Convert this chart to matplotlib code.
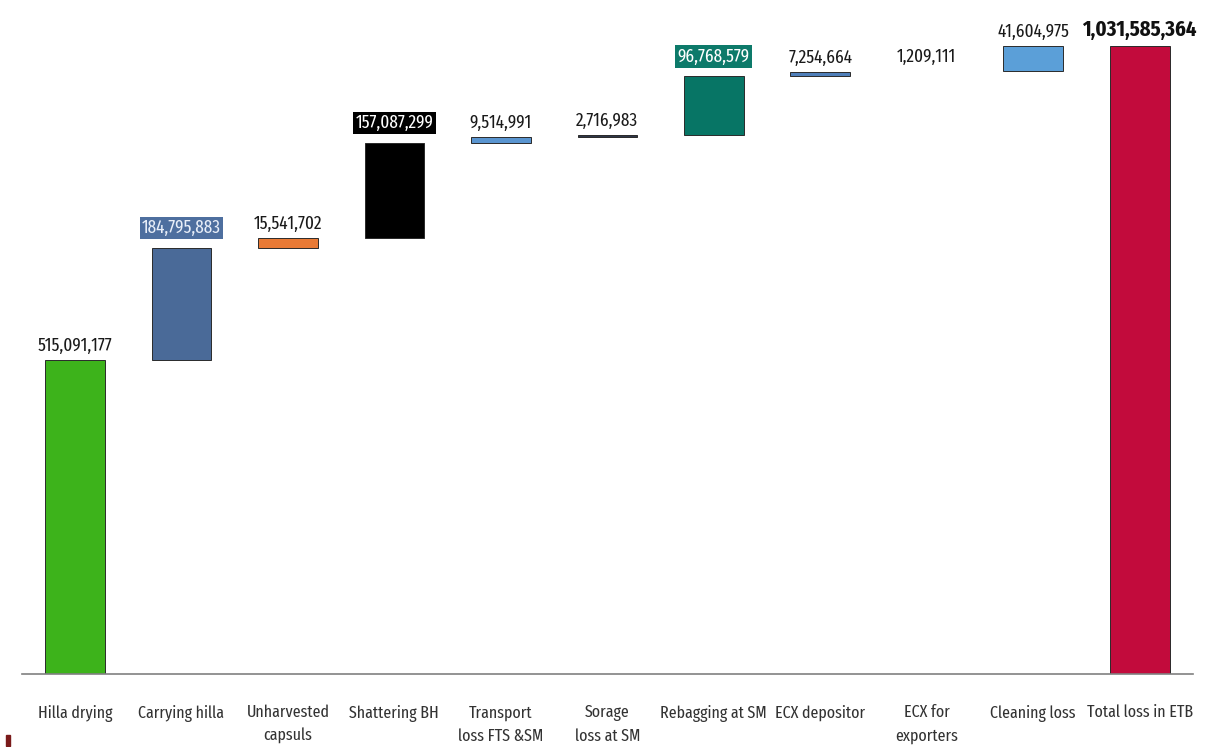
import numpy as np
import matplotlib
matplotlib.use("Agg")
import matplotlib.pyplot as plt
from matplotlib.patches import Rectangle

plt.rcParams['font.family'] = ['Fira Sans Extra Condensed', 'DejaVu Sans']

categories = ["Hilla drying", "Carrying hilla", "Unharvested\ncapsuls", "Shattering BH",
              "Transport\nloss FTS &SM", "Sorage\nloss at SM", "Rebagging at SM",
              "ECX depositor", "ECX for\nexporters", "Cleaning loss", "Total loss in ETB"]
losses = [515091177, 184795883, 15541702, 157087299, 9514991, 2716983,
          96768579, 7254664, 1209111, 41604975]
total = 1031585364
bar_colors = ["#3db31b", "#4a6a98", "#e97a35", "#000000", "#5a95d0", "#2e3648",
              "#077565", "#4f7fba", "#ffffff", "#5b9fd8", "#c20b3c"]
edge_colors = ["#2a2a2a"] * 8 + ["none"] + ["#2a2a2a"] * 2

# label boxes: (facecolor, textcolor) or None
label_box = [None, ("#4e6f9f", "#e8eef8"), None, ("#000000", "white"), None, None,
             ("#0d7a6a", "white"), None, None, None, None]

vals = losses + [total]
bottoms = list(np.concatenate([[0], np.cumsum(losses)[:-1]])) + [0]
x = np.arange(len(categories))

fig = plt.figure(figsize=(12.05, 7.47), dpi=100)
ax = fig.add_axes([0.018, 0.0977, 0.972, 0.9023])

ax.bar(x, vals, bottom=bottoms, width=0.56, color=bar_colors,
       edgecolor=edge_colors, linewidth=0.7)

for i, (v, b) in enumerate(zip(vals, bottoms)):
    top = v + b
    txt = f"{v:,}"
    if i == len(vals) - 1:
        ax.annotate(txt, (x[i], top), xytext=(0, 4), textcoords="offset points",
                    ha="center", va="bottom", fontsize=16, fontweight="bold", color="#111111")
        continue
    box = label_box[i]
    if box:
        ax.annotate(txt, (x[i], top), xytext=(0, 8), textcoords="offset points",
                    ha="center", va="bottom", fontsize=13.5, color=box[1],
                    bbox=dict(boxstyle="square,pad=0.12", fc=box[0], ec="none"))
    else:
        ax.annotate(txt, (x[i], top), xytext=(0, 4), textcoords="offset points",
                    ha="center", va="bottom", fontsize=13.5, color="#1a1a1a")

ax.set_xlim(-0.5, len(categories) - 0.5)
ax.set_ylim(0, 1.107e9)
ax.set_xticks(x)
ax.set_xticklabels(categories, fontsize=12.5, color="#333333", va="top", linespacing=1.6)
ax.tick_params(axis="x", length=0, pad=22)
ax.set_yticks([])
for s in ["top", "right", "left"]:
    ax.spines[s].set_visible(False)
ax.spines["bottom"].set_color("#808080")
ax.spines["bottom"].set_linewidth(1.2)

# small mark at bottom left corner
fig.patches.append(Rectangle((6 / 1205, 1 - 746 / 747), 4 / 1205, 11 / 747,
                             transform=fig.transFigure, color="#7a1a1a"))

fig.savefig("out.png", dpi=100)
